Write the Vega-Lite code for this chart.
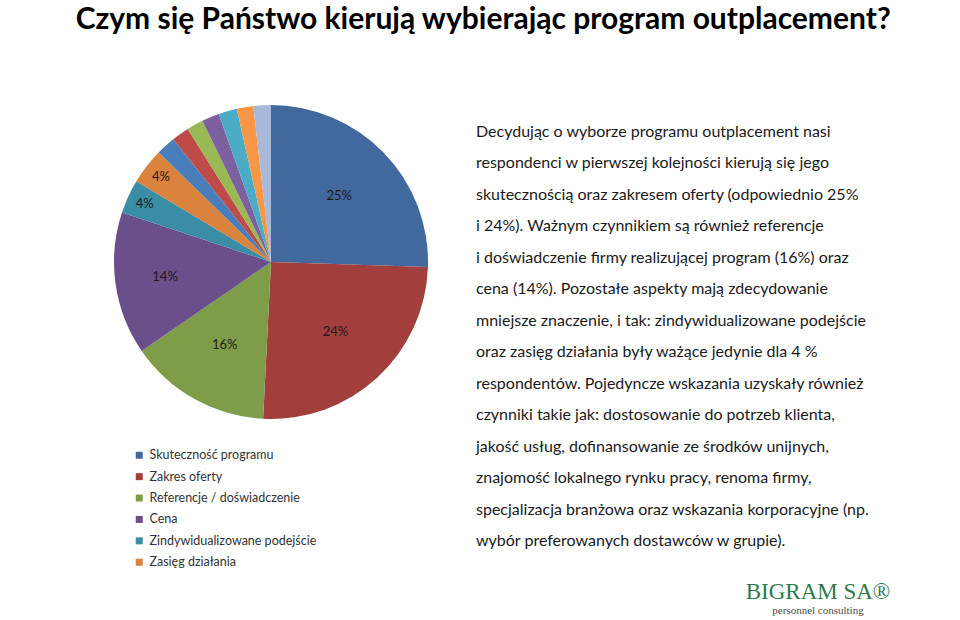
{
  "$schema": "https://vega.github.io/schema/vega-lite/v6.json",
  "background": "white",
  "padding": {"left": 75, "top": 5, "right": 0, "bottom": 0},
  "title": {
    "text": "Czym się Państwo kierują wybierając program outplacement?",
    "font": "Lato", "fontWeight": "bold", "fontSize": 30, "color": "#000000",
    "anchor": "middle", "dx": 0, "offset": 70
  },
  "config": {"view": {"stroke": null}, "concat": {"spacing": 10}},
  "hconcat": [
    {
      "width": 390, "height": 314,
      "data": {"values": [
        {"o": 1, "k": "Skuteczność programu", "v": 25.5, "lab": "25%"},
        {"o": 2, "k": "Zakres oferty", "v": 25.3, "lab": "24%"},
        {"o": 3, "k": "Referencje / doświadczenie", "v": 14.6, "lab": "16%"},
        {"o": 4, "k": "Cena", "v": 14.7, "lab": "14%"},
        {"o": 5, "k": "Zindywidualizowane podejście", "v": 3.5, "lab": "4%"},
        {"o": 6, "k": "Zasięg działania", "v": 3.7, "lab": "4%"},
        {"o": 7, "k": "Dostosowanie do potrzeb klienta", "v": 2.0, "lab": "2%"},
        {"o": 8, "k": "Jakość usług", "v": 1.8, "lab": "2%"},
        {"o": 9, "k": "Dofinansowanie ze środków unijnych", "v": 1.7, "lab": "2%"},
        {"o": 10, "k": "Znajomość lokalnego rynku pracy", "v": 1.8, "lab": "2%"},
        {"o": 11, "k": "Renoma firmy", "v": 1.9, "lab": "2%"},
        {"o": 12, "k": "Specjalizacja branżowa", "v": 1.7, "lab": "2%"},
        {"o": 13, "k": "Wskazania korporacyjne", "v": 1.8, "lab": "2%"}
      ]},
      "encoding": {
        "theta": {"field": "v", "type": "quantitative", "stack": true},
        "order": {"field": "o", "type": "quantitative"}
      },
      "layer": [
        {
          "mark": {"type": "arc", "outerRadius": 157},
          "encoding": {
            "color": {
              "field": "k", "type": "nominal", "sort": null,
              "scale": {
                "domain": ["Skuteczność programu", "Zakres oferty", "Referencje / doświadczenie", "Cena", "Zindywidualizowane podejście", "Zasięg działania", "Dostosowanie do potrzeb klienta", "Jakość usług", "Dofinansowanie ze środków unijnych", "Znajomość lokalnego rynku pracy", "Renoma firmy", "Specjalizacja branżowa", "Wskazania korporacyjne"],
                "range": ["#41699E", "#A23F3C", "#7F9C48", "#6A4F8B", "#3B8DA5", "#D9833C", "#4A7EBB", "#BE4B48", "#98B954", "#7D60A0", "#4BACC6", "#F79646", "#A9B9DA"]
              },
              "legend": {
                "orient": "none", "legendX": 57, "legendY": 344, "title": null,
                "values": ["Skuteczność programu", "Zakres oferty", "Referencje / doświadczenie", "Cena", "Zindywidualizowane podejście", "Zasięg działania"],
                "symbolType": "square", "symbolSize": 49, "symbolStrokeWidth": 0,
                "labelFont": "Lato", "labelFontSize": 12.5, "labelColor": "#333333", "labelLimit": 300,
                "rowPadding": 8.4, "labelOffset": 4
              }
            }
          }
        },
        {
          "mark": {"type": "text", "radius": 95, "font": "Lato", "fontSize": 13, "color": "#1a1a1a"},
          "encoding": {"text": {"condition": {"test": "datum.v > 10 && datum.o != 4", "field": "lab", "type": "nominal"}, "value": ""}}
        },
        {
          "mark": {"type": "text", "radius": 107, "font": "Lato", "fontSize": 13, "color": "#1a1a1a"},
          "encoding": {"text": {"condition": {"test": "datum.o == 4", "field": "lab", "type": "nominal"}, "value": ""}}
        },
        {
          "mark": {"type": "text", "radius": 139, "font": "Lato", "fontSize": 13, "color": "#1a1a1a"},
          "encoding": {"text": {"condition": {"test": "datum.v > 3 && datum.v < 10", "field": "lab", "type": "nominal"}, "value": ""}}
        }
      ]
    },
    {
      "width": 412, "height": 473,
      "data": {"values": [
        {"n": 1, "t": "Decydując o wyborze programu outplacement nasi"},
        {"n": 2, "t": "respondenci w pierwszej kolejności kierują się jego"},
        {"n": 3, "t": "skutecznością oraz zakresem oferty (odpowiednio 25%"},
        {"n": 4, "t": "i 24%). Ważnym czynnikiem są również referencje"},
        {"n": 5, "t": "i doświadczenie firmy realizującej program (16%) oraz"},
        {"n": 6, "t": "cena (14%). Pozostałe aspekty mają zdecydowanie"},
        {"n": 7, "t": "mniejsze znaczenie, i tak: zindywidualizowane podejście"},
        {"n": 8, "t": "oraz zasięg działania były ważące jedynie dla 4 %"},
        {"n": 9, "t": "respondentów. Pojedyncze wskazania uzyskały również"},
        {"n": 10, "t": "czynniki takie jak: dostosowanie do potrzeb klienta,"},
        {"n": 11, "t": "jakość usług, dofinansowanie ze środków unijnych,"},
        {"n": 12, "t": "znajomość lokalnego rynku pracy, renoma firmy,"},
        {"n": 13, "t": "specjalizacja branżowa oraz wskazania korporacyjne (np."},
        {"n": 14, "t": "wybór preferowanych dostawców w grupie)."}
      ]},
      "mark": {"type": "text", "align": "left", "baseline": "alphabetic", "font": "Lato", "fontSize": 16, "color": "#1a1a1a"},
      "encoding": {
        "y": {"field": "n", "type": "ordinal", "scale": {"type": "point", "padding": 1}, "axis": null},
        "x": {"datum": 0, "type": "quantitative", "scale": {"domain": [0, 1]}, "axis": null},
        "text": {"field": "t"}
      },
      "title": {
        "text": "BIGRAM SA®", "subtitle": "personnel consulting",
        "orient": "bottom", "anchor": "end", "align": "center", "dx": -70,
        "font": "Liberation Serif", "fontSize": 23, "fontWeight": "normal", "color": "#2b7a4b",
        "subtitleFont": "Liberation Serif", "subtitleFontSize": 11, "subtitleColor": "#4a4a4a",
        "offset": 3, "subtitlePadding": 1
      }
    }
  ]
}
